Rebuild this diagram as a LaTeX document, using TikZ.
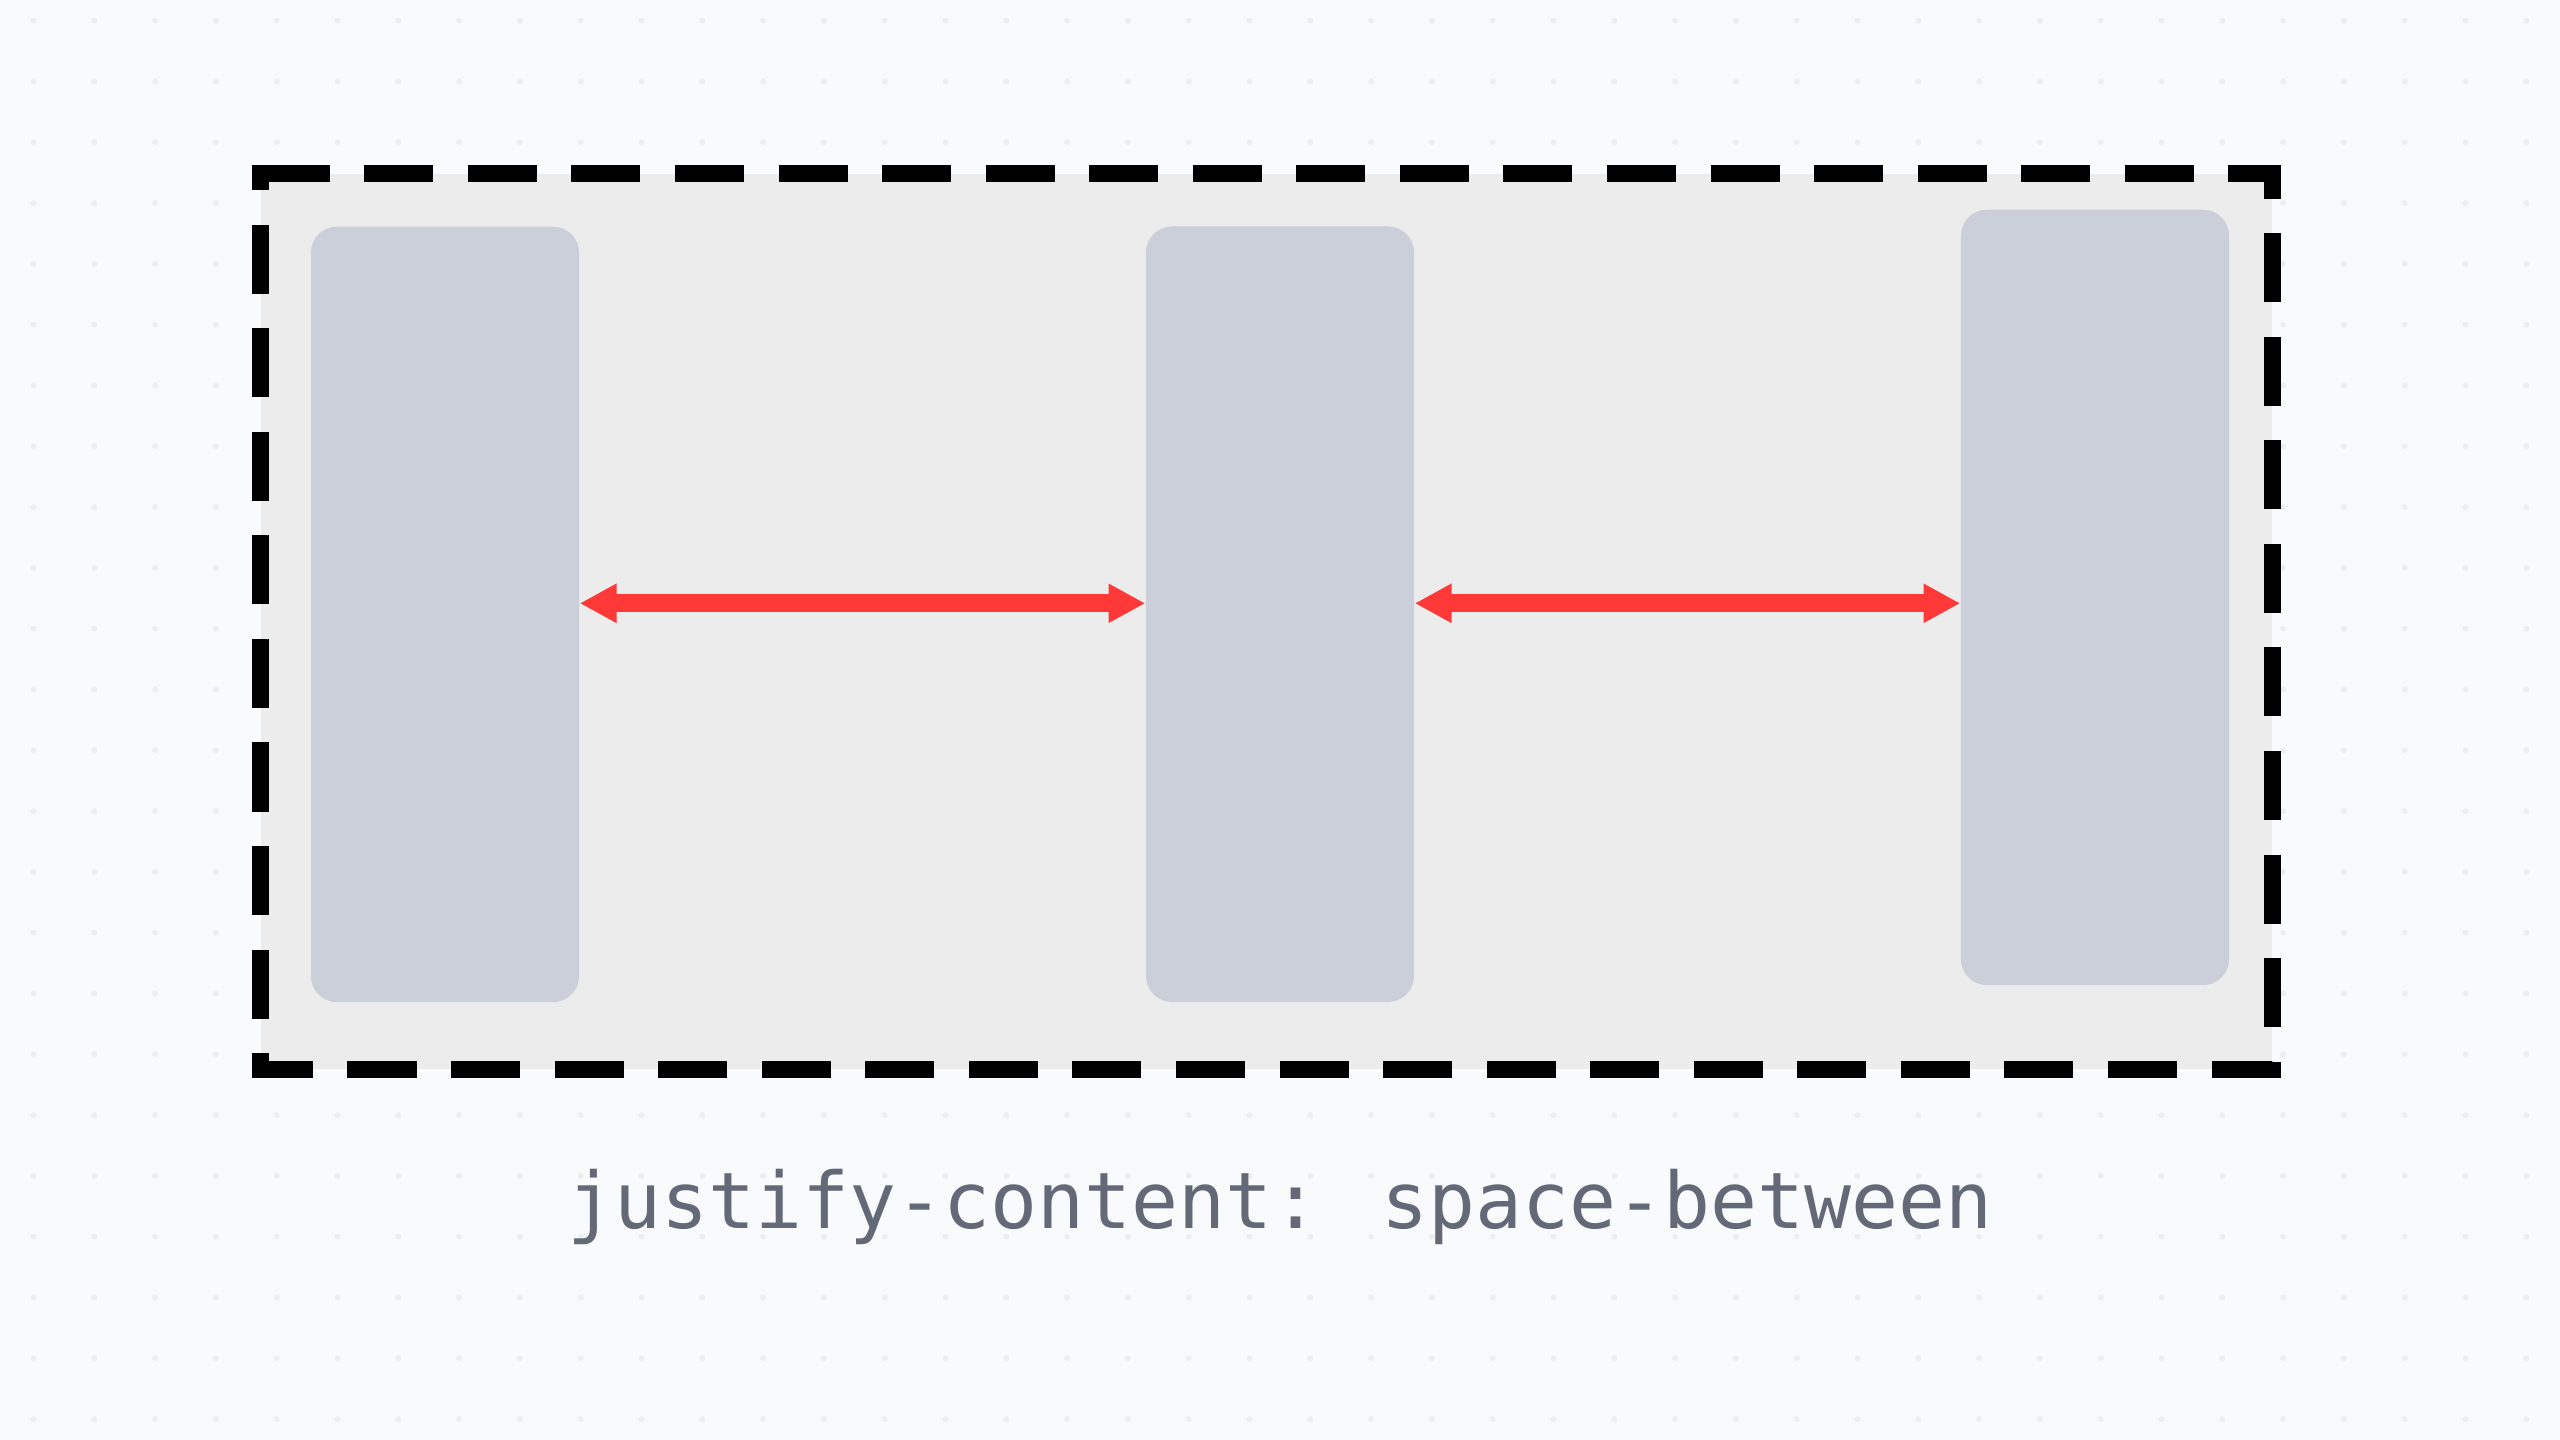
\documentclass[tikz,border=0pt]{standalone}
\usepackage{fontspec}
\newfontfamily\codefont{DejaVu Sans Mono}
\usetikzlibrary{arrows.meta}
\definecolor{bgcol}{HTML}{F9FAFC}
\definecolor{dotcol}{HTML}{ECEEF2}
\definecolor{contfill}{HTML}{ECECEC}
\definecolor{itemfill}{HTML}{CBCFD9}
\definecolor{arrowred}{HTML}{FF3838}
\definecolor{labelgray}{HTML}{636977}
\tikzset{
  itembox/.style={fill=itemfill, draw=none, inner sep=0pt, rounded corners=0.26cm,
    minimum width=2.68cm, minimum height=7.75cm},
  contbox/.style={fill=contfill, draw=none, inner sep=0pt,
    minimum width=20.09cm, minimum height=8.945cm},
  dashborder/.style={draw=black, line width=0.17cm, dash pattern=on 0.69cm off 0.345cm,
    line join=miter, line cap=butt},
  gaparrow/.style={draw=arrowred, line width=0.18cm,
    {Triangle[length=0.367cm, width=0.367cm]}-{Triangle[length=0.367cm, width=0.367cm]}},
}
\begin{document}
\begin{tikzpicture}[x=0.01cm, y=-0.01cm]
  \fill[bgcol] (0,0) rectangle (2560,1440);
  \useasboundingbox (0,0) rectangle (2560,1440);
  \foreach \i in {0,...,41}{
    \foreach \j in {0,...,23}{
      \fill[dotcol] ({33.5+60.8*\i},{20.7+60.8*\j}) circle (3);
    }
  }
  % container
  \node[contbox] (container) at (1266.5,621.75) {};
  \draw[dashborder] (container.north west) -- (container.north east)
    -- (container.south east) -- (container.south west) -- cycle;
  \fill[black] (container.north west) ++(-8.5,-8.5) rectangle ++(17,17);
  % items
  \node[itembox] (b1) at (445,614.4) {};
  \node[itembox] (b2) at (1280,614.2) {};
  \node[itembox] (b3) at (2095,597.4) {};
  % arrows
  \coordinate (ay) at (0,603.3);
  \draw[gaparrow] (b1.east |- ay) -- (b2.west |- ay);
  \draw[gaparrow] (b2.east |- ay) -- (b3.west |- ay);
  % label
  \node[anchor=base, inner sep=0pt, text=labelgray,
    font=\codefont\fontsize{22.2pt}{27pt}\selectfont] (label) at (1280,1228.3)
    {justify-content: space-between};
\end{tikzpicture}
\end{document}
